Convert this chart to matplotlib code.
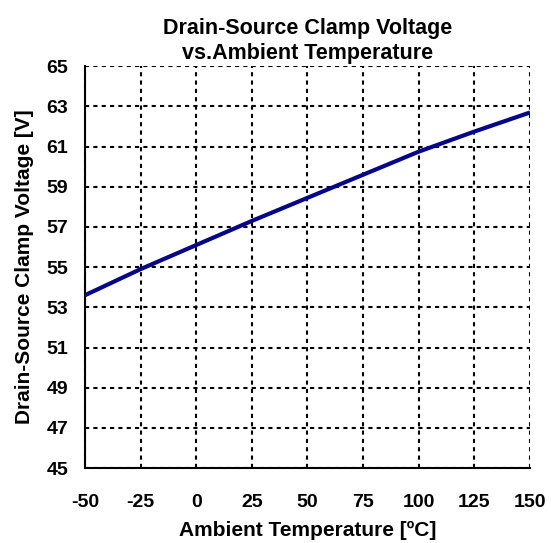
import matplotlib
matplotlib.use('Agg')
import matplotlib.pyplot as plt
import numpy as np

# values
temp = [-50, -25, 0, 25, 50, 75, 100, 125, 150]
clamp_v = [53.6, 54.9, 56.1, 57.3, 58.45, 59.6, 60.75, 61.75, 62.7]

xticks = np.arange(-50, 151, 25)
yticks = np.arange(45, 66, 2)

plt.rcParams['font.family'] = ['Liberation Sans', 'DejaVu Sans']
plt.rcParams['font.weight'] = 'bold'
plt.rcParams['axes.unicode_minus'] = False

fig = plt.figure(figsize=(5.51, 5.43), dpi=100)
ax = fig.add_axes([0.154, 0.138, 0.808, 0.740])

ax.plot(temp, clamp_v, color='#06068a', linewidth=3, solid_capstyle='butt', zorder=3)

ax.set_xlim(-50, 150)
ax.set_ylim(45, 65)
ax.set_xticks(xticks)
ax.set_yticks(yticks)
ax.tick_params(length=0, labelsize=14)
ax.tick_params(axis='y', pad=12)
ax.tick_params(axis='x', pad=19)
for lab in ax.get_xticklabels() + ax.get_yticklabels():
    lab.set_fontweight('bold')

ax.grid(True, color='black', linestyle=(0, (2, 2)), linewidth=1.5)
for s in ['top', 'right']:
    ax.spines[s].set_visible(False)
for s in ['left', 'bottom']:
    ax.spines[s].set_linewidth(1.5)

ax.set_title('Drain-Source Clamp Voltage\nvs.Ambient Temperature', fontsize=15.5,
             fontweight='bold', pad=5, linespacing=1.3)
ax.set_xlabel('Ambient Temperature [ºC]', fontsize=15, fontweight='bold', labelpad=7)
ax.set_ylabel('Drain-Source Clamp Voltage [V]', fontsize=15, fontweight='bold', labelpad=9)

fig.savefig('out.png', dpi=100)
